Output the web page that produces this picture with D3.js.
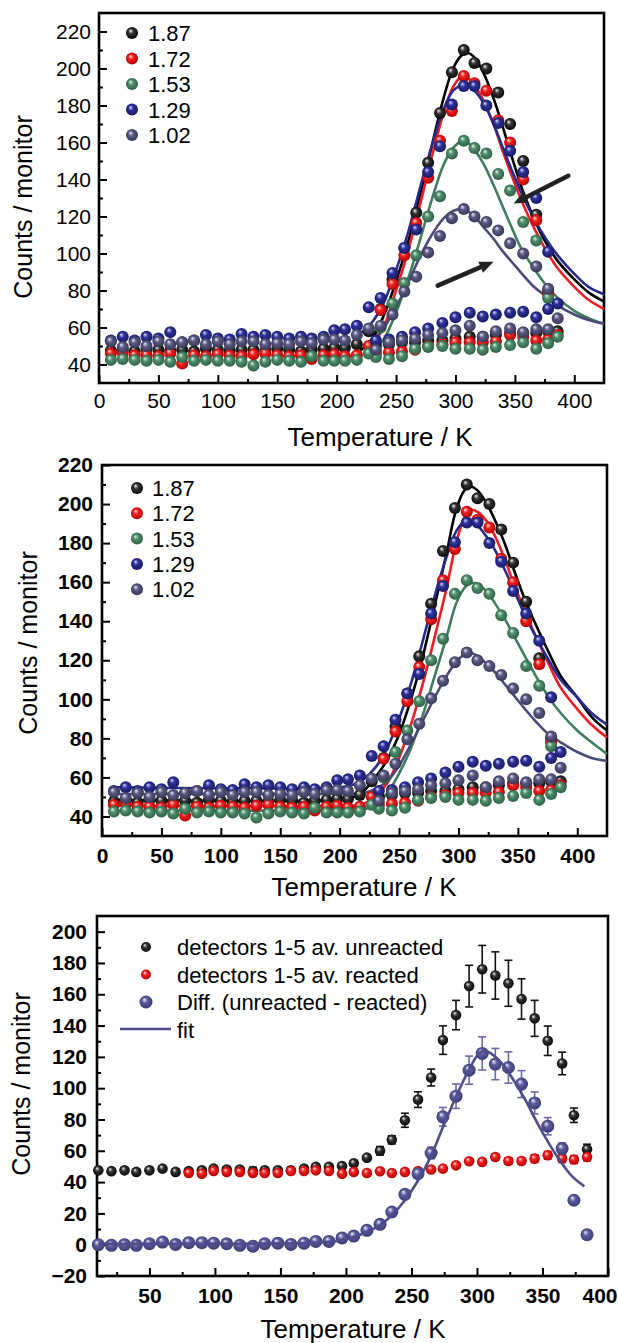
<!DOCTYPE html>
<html>
<head>
<meta charset="utf-8">
<script src="https://cdn.jsdelivr.net/npm/d3@7"></script>
<style>
  body { margin: 0; background: #fff; }
  text { font-family: "Liberation Sans", Arial, sans-serif; }
</style>
</head>
<body>
<div id="chart"></div>
<script>
// ---------- data: panels 1 and 2 (same measurements) ----------
var seriesNames = ["1.87", "1.72", "1.53", "1.29", "1.02"];
var tempsAB = [10,20,30,40,50,60,70,80,90,100,110,120,130,140,150,160,170,179,189,198,207,217,227,237,247,257,267,277,287,297,307,316,326,336,346,357,368,378,386];

var main187 = [47.5,48,47,48.5,48,47.5,48,47,48.5,48,47.5,48,48,47.5,48.5,48,47,48,48.5,49,49,51,58,70,86,103,122,149,176,198,210,203,200,187,170,150,121,80,58];
var main172 = [46,46.5,45,45,44.5,46,40.5,45,44.5,45.5,45,44.5,45.5,46,45,44.5,45,43,45,45.5,44.5,45,50,69.5,83.5,99,116.5,141,161,177,196,192,188,172,160,140,118,78,56];
var main153 = [42.5,43,42.5,42,42.5,41.5,44,42,42.5,42,42,41.5,39.5,41.5,42.5,42,41.5,44.5,42,42,42,42.5,46,60,73,84,99,120,131,154,161,157,154,143,134,117,107,76,55];
var main129 = [53,55,53,55,54,57.5,52,53,56,54,53.5,56.5,55,56,55,54,55,54,55,58.5,59,61,71,76,89.5,103,113,144,158,180.5,190.5,190.5,180,170.5,155.5,144,130,101,73];
var main102 = [52.5,49.5,52,50,52.5,51,52,53,51,52.5,51,52.5,52.5,51,51.5,51,52.5,51.5,53.5,53.5,53,56,59.5,61,67,79.5,87.5,100.5,109.5,119,124,120,117,112.5,105.5,100,93,81,65];

// second (low) branch at high temperature
var tempsLow = [233,244,255,266,277,289,300,312,323,334,346,357,368,378];
var low187 = [50,51,52,52,53,53,54,55,55,56,57,57,57,58];
var low172 = [46,46.5,47,48,50,51,52,52,52,52.5,56,55,53,53.5];
var low153 = [44,43,44.5,48.5,49.5,50,48.5,48.5,48,49.5,50.5,52,48.5,51.5];
var low129 = [53,53.5,55,57.5,59.5,62.5,65.5,68,66,67,68,68.5,65.5,70];
var low102 = [48,52,53,54,56,57,58.5,61,55,58,59.5,57.5,59,59];

// fit curves, panel 1 (null = not drawn)
var fitT1 = [220,230,240,250,260,270,280,290,298,305,310,316,324,332,340,348,356,366,376,386,400,412,425];
var fit1_187 = [47.5,54,67,85,106,131,158,184,200,207,208.5,206,197,184,168,151,135,119,106,96,86,79,74];
var fit1_172 = [null,50,61,80,101,126,152,176,190,195.5,195,191,182,170,155,141,128,114,102,92,82,75,70];
var fit1_153 = [null,46,54,68,86,107,129,148,157,160.5,160,156,148,137,125,113,102,92,83,76,69,65,62];
var fit1_129 = [57,63,74,91,111,135,158,178,188,191,191,188,181,170,157,144,132,119,108,99,89,82,78];
var fit1_102 = [null,53,60,71,84,98,110,119,123,124,123,120,114,108,101,95,89,82,77,72,67,64,62];

// fit curves, panel 2
var fitT2 = [10,200,210,220,230,240,250,260,270,280,290,298,305,310,316,324,332,340,348,356,366,376,386,400,412,425];
var fit2_187 = [48.5,48.5,49.5,53,60,69,82,100,122,148,175,197,207,209,207,200,190,178,164,151,137,124,112,101,91,84];
var fit2_172 = [45.5,45.5,45.5,46.5,50,57,70,87,108,132,157,180,193,197,196,191,182,170,157,145,131,118,106,95,87,80.5];
var fit2_153 = [43,43,43,43.5,46,52,62,75,92,112,132,149,157,159.5,159,155,148,140,131,122,111,101,93,84,78,72];
var fit2_129 = [55,55,56,59,65,75,90,108,130,153,173,186,191,191.5,189,183,175,165,154,143,131,120,110,101,93,87];
var fit2_102 = [51.5,51.5,51.5,52,54,58,66,77,89,101,112,119,123,124,122,118,113,107,101,95,88,82,78,73,70,68.5];

// ---------- data: panel 3 ----------
var tempsC = [11,21,31,40,50,60,70,80,90,99,109,119,129,138,148,158,168,177,187,197,206,216,226,235,245,255,265,274,284,294,304,314,324,334,344,354,365,374,384];
var unreacted = [47.5,47,47.5,46.5,47.5,48.6,46.5,47,47.5,48.6,48,48,47,47.5,47.5,47.5,48.6,49.7,49.7,50.3,52,55.6,60,67,79.5,92.7,106.8,130.7,146.7,165.2,176,172,167,157,144.6,130.3,115.8,82.7,61];
var unreactedErr = [1.5,1.5,1.5,1.5,1.5,1.5,1.5,1.5,1.5,1.5,1.5,1.5,2.5,1.5,1.5,1.5,1.5,1.5,1.5,1.5,1.5,1.5,2.7,2.6,4.5,5,5.4,9.1,9.4,13.3,15.2,15.1,14.7,12.9,11.5,9.4,7.2,4.6,3.2];
var tempsReacted = tempsC.slice(7);
var reacted = [45.8,45.4,47.1,46.5,46.5,45.8,45.8,45.8,47.1,47.1,47.5,47.1,45.4,46.5,45.8,46.9,45.8,46.5,47.1,48,48.6,50.7,53.3,52.9,56,53.5,53.5,55,57.1,55,54.4,56];
var reactedErr = [1.5,1.5,1.5,1.5,1.5,1.5,1.5,1.5,1.5,1.5,1.5,1.5,1.5,1.5,1.5,1.5,1.5,1.5,1.5,1.5,1.5,1.5,1.5,1.5,2,2,2,2.5,2.5,2.5,2.5,2.5];
var diffVals = [0,-0.4,0,-0.4,0.6,1.7,0.2,1.3,1.3,1,0.6,-0.4,-1,0.6,1,0.2,1,2.1,2.1,4.3,5.5,9.2,13,20.9,32.2,45.4,58.6,81.7,94.9,111.5,122.2,115.4,113.2,102.6,90.6,75.7,61.4,28.4,6.4];
var diffErr = [0,0,0,0,0,0,0,0,0,0,0,0,0,0,0,0,0,0,0,0,0,0,0,0,0,2,3.7,6,7.8,9,10.6,10,10,8.6,7,5.5,3.6,0,0];
var fitT3 = [11,100,170,187,197,206,216,226,235,245,255,264,274,284,294,301,305,310,319,328,337,346,355,364,373,382];
var fit3 = [0.5,0.6,1,1.7,2.8,4.9,8.1,12.4,18.8,28.4,41,55,75,94.5,112,121.7,123.9,122.6,115.8,105,92.3,77.8,64.6,52.9,43.3,37.3];
var legend3 = ["detectors 1-5 av. unreacted", "detectors 1-5 av. reacted", "Diff. (unreacted - reacted)", "fit"];

// arrows in panel 1 (data units: [T, counts])
var arrowsP1 = [[[395,142],[349,127]], [[285,82.6],[332,95.6]]];

// ---------- drawing ----------
var svg = d3.select("#chart").append("svg").attr("width", 618).attr("height", 1343);
var defs = svg.append("defs");

var balls = {
  k: ["#f2f2f2", "#333333", "#050505"],
  r: ["#ffe4e4", "#f22020", "#a80000"],
  g: ["#e4f2ea", "#4f8f6c", "#2a5a40"],
  b: ["#dcdcff", "#2e3299", "#15175e"],
  s: ["#ececf6", "#5b5b86", "#33334f"],
  d: ["#efefff", "#5e5ea0", "#36366c"]
};
Object.keys(balls).forEach(function(k) {
  var gr = defs.append("radialGradient").attr("id", "ball-" + k)
    .attr("cx", "50%").attr("cy", "50%").attr("r", "55%")
    .attr("fx", "36%").attr("fy", "30%");
  gr.append("stop").attr("offset", "0%").attr("stop-color", balls[k][0]);
  gr.append("stop").attr("offset", "38%").attr("stop-color", balls[k][1]);
  gr.append("stop").attr("offset", "100%").attr("stop-color", balls[k][2]);
});

var lineColors = { k: "#000000", r: "#ee1c24", g: "#3f7d5c", b: "#262b8e", s: "#4b4b7b", d: "#4d4d8c" };
var keys = ["k", "r", "g", "b", "s"];

function panel(c) {
  var x = d3.scaleLinear().domain(c.xDom).range([c.left, c.right]);
  var y = d3.scaleLinear().domain(c.yDom).range([c.bottom, c.top]);
  var g = svg.append("g");
  var fw = c.bold ? "bold" : "normal";

  g.append("g").attr("class", "xaxis").attr("transform", "translate(0," + c.bottom + ")")
    .call(d3.axisBottom(x).tickValues(c.xTicks).tickSize(-8).tickPadding(c.xPad));
  g.append("g").attr("transform", "translate(0," + c.bottom + ")")
    .call(d3.axisBottom(x).tickValues(c.xMinor).tickSize(-4).tickFormat(""));
  g.append("g").attr("transform", "translate(" + c.left + ",0)")
    .call(d3.axisLeft(y).tickValues(c.yTicks).tickSize(-8).tickPadding(c.yPad));
  g.append("g").attr("transform", "translate(" + c.left + ",0)")
    .call(d3.axisLeft(y).tickValues(c.yMinor).tickSize(-4).tickFormat(""));
  g.selectAll(".domain").remove();
  g.selectAll(".tick line").attr("stroke", "#000").attr("stroke-width", 2);
  g.selectAll(".tick text").attr("fill", "#000")
    .style("font-size", c.tickSize + "px").style("font-weight", fw)
    .style("font-family", "'Liberation Sans', Arial, sans-serif");

  g.append("rect").attr("x", c.left).attr("y", c.top)
    .attr("width", c.right - c.left).attr("height", c.bottom - c.top)
    .attr("fill", "none").attr("stroke", "#000").attr("stroke-width", 2.6);

  g.append("text").attr("x", c.xTitle[0]).attr("y", c.xTitle[1])
    .attr("text-anchor", "middle").style("font-size", "26px").text("Temperature / K");
  g.append("text").attr("transform", "translate(" + c.yTitle[0] + "," + c.yTitle[1] + ") rotate(-90)")
    .attr("text-anchor", "middle").style("font-size", "25px").text("Counts / monitor");

  var plot = g.append("g");
  return { g: plot, axes: g, x: x, y: y };
}

function drawFit(p, ts, vals, color, width) {
  var pts = ts.map(function(t, i) { return [t, vals[i]]; });
  p.g.append("path")
    .datum(pts)
    .attr("fill", "none").attr("stroke", color).attr("stroke-width", width || 2.6)
    .attr("d", d3.line()
      .defined(function(d) { return d[1] !== null; })
      .curve(d3.curveCatmullRom.alpha(0.5))
      .x(function(d) { return p.x(d[0]); })
      .y(function(d) { return p.y(d[1]); }));
}

function drawBalls(p, ts, vals, key, r) {
  p.g.append("g").selectAll("circle")
    .data(ts.map(function(t, i) { return [t, vals[i]]; }))
    .enter().append("circle")
    .attr("cx", function(d) { return p.x(d[0]); })
    .attr("cy", function(d) { return p.y(d[1]); })
    .attr("r", r)
    .attr("fill", "url(#ball-" + key + ")");
}

function drawErr(p, ts, vals, errs, color) {
  var d = ts.map(function(t, i) { return [t, vals[i], errs[i]]; }).filter(function(e) { return e[2] > 0; });
  var eg = p.g.append("g").attr("stroke", color).attr("stroke-width", 1.6);
  eg.selectAll("line.v").data(d).enter().append("line")
    .attr("x1", function(e) { return p.x(e[0]); }).attr("x2", function(e) { return p.x(e[0]); })
    .attr("y1", function(e) { return p.y(e[1] - e[2]); }).attr("y2", function(e) { return p.y(e[1] + e[2]); });
  [-1, 1].forEach(function(s) {
    eg.selectAll("line.c" + s).data(d).enter().append("line")
      .attr("x1", function(e) { return p.x(e[0]) - 4; }).attr("x2", function(e) { return p.x(e[0]) + 4; })
      .attr("y1", function(e) { return p.y(e[1] + s * e[2]); }).attr("y2", function(e) { return p.y(e[1] + s * e[2]); });
  });
}

var mains = [main187, main172, main153, main129, main102];
var lows = [low187, low172, low153, low129, low102];
var fits1 = [fit1_187, fit1_172, fit1_153, fit1_129, fit1_102];
var fits2 = [fit2_187, fit2_172, fit2_153, fit2_129, fit2_102];

// ---- panel 1 ----
var p1 = panel({
  left: 99, right: 604, top: 13, bottom: 383,
  xDom: [0, 425], yDom: [30, 230], bold: false, tickSize: 21,
  xTicks: d3.range(0, 401, 50), xMinor: d3.range(25, 401, 50),
  yTicks: d3.range(40, 221, 20), yMinor: d3.range(50, 211, 20),
  xPad: 10, yPad: 8, xTitle: [380, 446], yTitle: [32, 207]
});
keys.forEach(function(k, i) { drawFit(p1, fitT1, fits1[i], lineColors[k]); });
keys.forEach(function(k, i) {
  drawBalls(p1, tempsLow, lows[i], k, 6);
  drawBalls(p1, tempsAB, mains[i], k, 6);
});
arrowsP1.forEach(function(a) {
  var x1 = p1.x(a[0][0]), y1 = p1.y(a[0][1]), x2 = p1.x(a[1][0]), y2 = p1.y(a[1][1]);
  var ang = Math.atan2(y2 - y1, x2 - x1), hl = 14, hw = 6;
  var bx = x2 - hl * Math.cos(ang), by = y2 - hl * Math.sin(ang);
  p1.g.append("line").attr("x1", x1).attr("y1", y1).attr("x2", bx).attr("y2", by)
    .attr("stroke", "#222").attr("stroke-width", 4.5).attr("stroke-linecap", "round");
  p1.g.append("path").attr("fill", "#222")
    .attr("d", "M" + x2 + "," + y2 +
      "L" + (bx + hw * Math.sin(ang)) + "," + (by - hw * Math.cos(ang)) +
      "L" + (bx - hw * Math.sin(ang)) + "," + (by + hw * Math.cos(ang)) + "Z");
});
var leg1 = p1.g.append("g");
seriesNames.forEach(function(n, i) {
  var cy = 33 + i * 25.5;
  leg1.append("circle").attr("cx", 132).attr("cy", cy).attr("r", 6).attr("fill", "url(#ball-" + keys[i] + ")");
  leg1.append("text").attr("x", 148).attr("y", cy + 8).style("font-size", "22px").text(n);
});

// ---- panel 2 ----
var p2 = panel({
  left: 102, right: 607, top: 465, bottom: 836,
  xDom: [0, 425], yDom: [30, 220], bold: true, tickSize: 21,
  xTicks: d3.range(0, 401, 50), xMinor: d3.range(25, 401, 50),
  yTicks: d3.range(40, 221, 20), yMinor: d3.range(50, 211, 20),
  xPad: 12, yPad: 9, xTitle: [364, 896], yTitle: [37, 643]
});
keys.forEach(function(k, i) { drawFit(p2, fitT2, fits2[i], lineColors[k]); });
keys.forEach(function(k, i) {
  drawBalls(p2, tempsLow, lows[i], k, 6);
  drawBalls(p2, tempsAB, mains[i], k, 6);
});
var leg2 = p2.g.append("g");
seriesNames.forEach(function(n, i) {
  var cy = 488 + i * 25.3;
  leg2.append("circle").attr("cx", 137).attr("cy", cy).attr("r", 6).attr("fill", "url(#ball-" + keys[i] + ")");
  leg2.append("text").attr("x", 152).attr("y", cy + 8).style("font-size", "22px").text(n);
});

// ---- panel 3 ----
var p3 = panel({
  left: 97, right: 608, top: 916, bottom: 1276,
  xDom: [10, 400], yDom: [-20, 210], bold: true, tickSize: 21,
  xTicks: d3.range(50, 401, 50), xMinor: d3.range(25, 401, 50),
  yTicks: d3.range(-20, 201, 20), yMinor: d3.range(-10, 201, 20),
  xPad: 12, yPad: 10, xTitle: [353, 1338], yTitle: [30, 1084]
});
// keep the last tick label inside the page
p3.axes.select(".xaxis").selectAll(".tick text")
  .filter(function(d) { return d === 400; })
  .attr("text-anchor", "end").attr("dx", 9);

drawErr(p3, tempsC, unreacted, unreactedErr, "#111");
drawErr(p3, tempsReacted, reacted, reactedErr, "#e02020");
drawErr(p3, tempsC, diffVals, diffErr, "#6a6aa8");
drawBalls(p3, tempsC, unreacted, "k", 5.3);
drawBalls(p3, tempsReacted, reacted, "r", 5.3);
drawBalls(p3, tempsC, diffVals, "d", 6.5);
drawFit(p3, fitT3, fit3, lineColors.d, 2.6);

var leg3 = p3.g.append("g");
[["k", 5], ["r", 5], ["d", 6.5]].forEach(function(m, i) {
  var cy = 947 + i * 27.5;
  leg3.append("circle").attr("cx", 146).attr("cy", cy).attr("r", m[1]).attr("fill", "url(#ball-" + m[0] + ")");
});
leg3.append("line").attr("x1", 120).attr("x2", 171).attr("y1", 1029).attr("y2", 1029)
  .attr("stroke", lineColors.d).attr("stroke-width", 2.6);
legend3.forEach(function(t, i) {
  leg3.append("text").attr("x", 177).attr("y", 947 + i * 27.5 + 8).style("font-size", "22px").text(t);
});
</script>
</body>
</html>
